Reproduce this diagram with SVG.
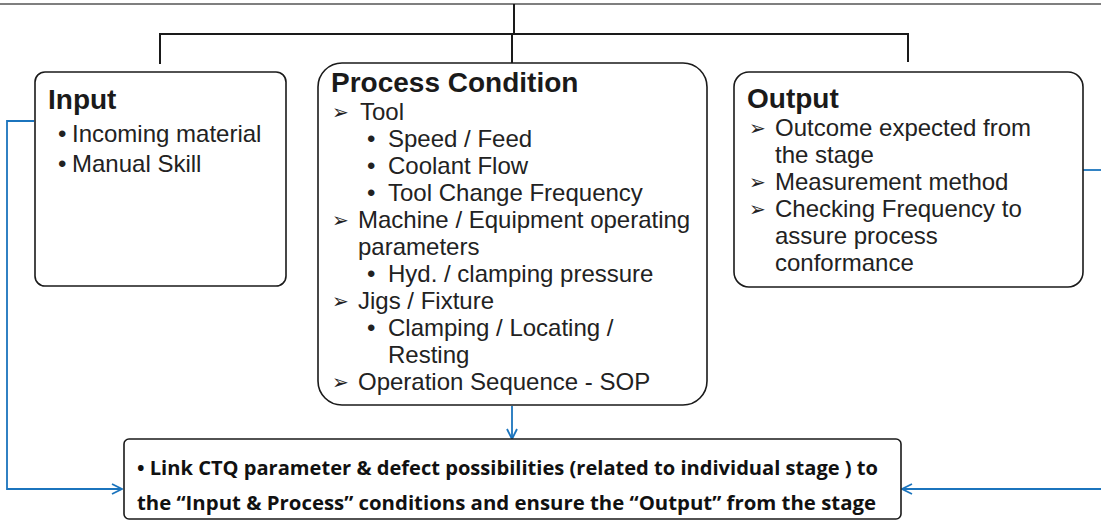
<svg xmlns="http://www.w3.org/2000/svg" width="1101" height="521" viewBox="0 0 1101 521">
<defs>
<marker id="arr" viewBox="0 0 12 12" refX="11" refY="6" markerWidth="12" markerHeight="12" markerUnits="userSpaceOnUse" orient="auto">
<path d="M1,1 L11,6 L1,11" fill="none" stroke="#1b74bd" stroke-width="1.8"/>
</marker>
<style>
.box{fill:#fff;stroke:#1a1a1a;stroke-width:1.6}
.tree{fill:none;stroke:#1a1a1a;stroke-width:2}
.blue{fill:none;stroke:#1b74bd;stroke-width:1.8}
.t{font-family:"Liberation Sans",Arial,sans-serif;font-size:24px;fill:#222}
.a{font-family:"DejaVu Sans",sans-serif;font-size:20px;fill:#222}
.h{font-family:"Liberation Sans",Arial,sans-serif;font-size:28px;font-weight:bold;fill:#1a1a1a}
.b{font-family:"Open Sans","Noto Sans",sans-serif;font-size:20px;font-weight:bold;fill:#111}
</style>
</defs>
<g id="connectors">
<line x1="0" y1="4" x2="1101" y2="4" stroke="#555" stroke-width="1.5"/>
<path class="tree" d="M514,4 V34 M160,64 V34 H908 V62 M512,34 V64"/>
<path class="blue" d="M34,121 H7 V489 H122" marker-end="url(#arr)"/>
<path class="blue" d="M1083,170 H1101"/>
<path class="blue" d="M1101,489 H902" marker-end="url(#arr)"/>
<path class="blue" d="M512,406 V439" marker-end="url(#arr)"/>
</g>
<g id="input">
<rect class="box" x="35" y="72" width="251" height="214" rx="10"/>
<text class="h" x="48" y="109">Input</text>
<text class="t" x="58" y="142">•</text><text class="t" x="72" y="142">Incoming material</text>
<text class="t" x="58" y="172">•</text><text class="t" x="72" y="172">Manual Skill</text>
</g>
<g id="process">
<rect class="box" x="318" y="63" width="389" height="342" rx="24"/>
<text class="h" x="331" y="92">Process Condition</text>
<text class="a" x="332" y="119">➢</text><text class="t" x="360" y="120">Tool</text>
<text class="t" x="367" y="147">•</text><text class="t" x="388" y="147">Speed / Feed</text>
<text class="t" x="367" y="174">•</text><text class="t" x="388" y="174">Coolant Flow</text>
<text class="t" x="367" y="201">•</text><text class="t" x="388" y="201">Tool Change Frequency</text>
<text class="a" x="332" y="227">➢</text><text class="t" x="358" y="228">Machine / Equipment operating</text>
<text class="t" x="358" y="255">parameters</text>
<text class="t" x="367" y="282">•</text><text class="t" x="388" y="282">Hyd. / clamping pressure</text>
<text class="a" x="332" y="308">➢</text><text class="t" x="358" y="309">Jigs / Fixture</text>
<text class="t" x="367" y="336">•</text><text class="t" x="388" y="336">Clamping / Locating /</text>
<text class="t" x="388" y="363">Resting</text>
<text class="a" x="332" y="389">➢</text><text class="t" x="358" y="390">Operation Sequence - SOP</text>
</g>
<g id="output">
<rect class="box" x="734" y="72" width="349" height="215" rx="15"/>
<text class="h" x="747" y="108">Output</text>
<text class="a" x="749" y="135">➢</text><text class="t" x="775" y="136">Outcome expected from</text>
<text class="t" x="775" y="163">the stage</text>
<text class="a" x="749" y="189">➢</text><text class="t" x="775" y="190">Measurement method</text>
<text class="a" x="749" y="216">➢</text><text class="t" x="775" y="217">Checking Frequency to</text>
<text class="t" x="775" y="244">assure process</text>
<text class="t" x="775" y="271">conformance</text>
</g>
<g id="summary">
<rect class="box" x="124" y="439" width="777" height="80" rx="5"/>
<text class="b" x="137" y="475" textLength="741" lengthAdjust="spacingAndGlyphs">• Link CTQ parameter &amp; defect possibilities (related to individual stage ) to</text>
<text class="b" x="137" y="510" textLength="739" lengthAdjust="spacingAndGlyphs">the “Input &amp; Process” conditions and ensure the “Output” from the stage</text>
</g>
</svg>
